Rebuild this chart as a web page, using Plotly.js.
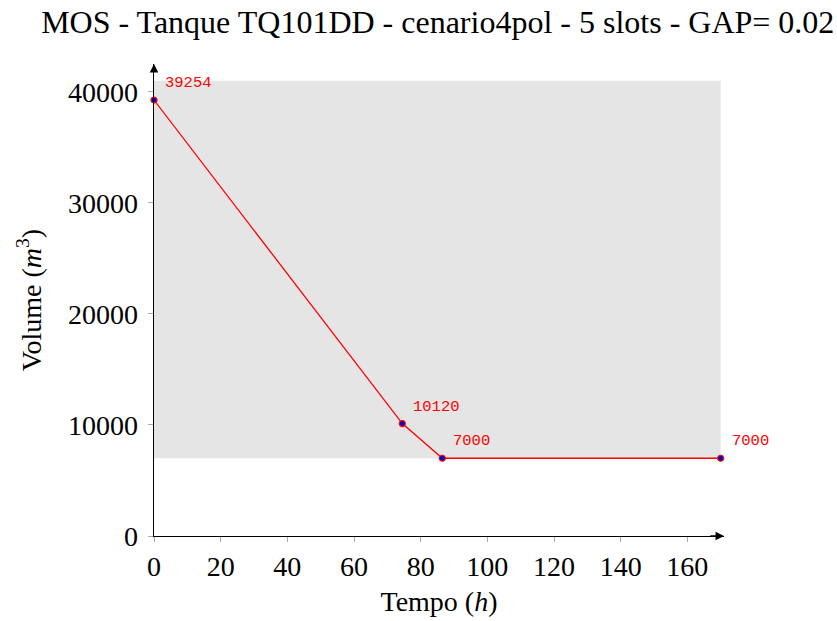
<!DOCTYPE html>
<html>
<head>
<meta charset="utf-8">
<script src="https://cdn.plot.ly/plotly-3.0.1.min.js"></script>
<style>html,body{margin:0;padding:0;background:#fff;}#chart{width:837px;height:621px;}</style>
</head>
<body>
<div id="chart"></div>
<script>
// Data
var tempo = [0, 74.5, 86.5, 170];
var volume = [39254, 10120, 7000, 7000];
var pointLabels = ['39254', '10120', '7000', '7000'];
var capMin = 7000;
var capMax = 41000;
var xTicks = [0, 20, 40, 60, 80, 100, 120, 140, 160];
var yTicks = [0, 10000, 20000, 30000, 40000];
var xMax = 171;
var yMax = 42500;

var serif = 'Liberation Serif, Times New Roman, serif';

var trace = {
  x: tempo, y: volume, mode: 'lines+markers', type: 'scatter',
  line: {color: '#ff0000', width: 1.3},
  marker: {color: '#0000cc', size: 6, line: {color: '#ff0000', width: 1.2}},
  cliponaxis: false, hoverinfo: 'skip', showlegend: false
};

var annotations = pointLabels.map(function (t, i) {
  return {x: tempo[i], y: volume[i], xref: 'x', yref: 'y', text: t, showarrow: false,
    xanchor: 'left', yanchor: 'bottom', xshift: 9, yshift: 6,
    font: {family: 'Liberation Mono, monospace', size: 15.5, color: '#ff0000'}};
});
// axis arrows
annotations.push({x: xMax, y: 0, ax: xMax - 5, ay: 0, xref: 'x', yref: 'y', axref: 'x', ayref: 'y',
  text: ' ', showarrow: true, arrowhead: 2, arrowsize: 1.3, arrowwidth: 1.3, arrowcolor: '#000'});
annotations.push({x: 0, y: yMax, ax: 0, ay: yMax - 1500, xref: 'x', yref: 'y', axref: 'x', ayref: 'y',
  text: ' ', showarrow: true, arrowhead: 2, arrowsize: 1.3, arrowwidth: 1.3, arrowcolor: '#000'});

var layout = {
  width: 837, height: 621,
  margin: {l: 154, r: 113, t: 64, b: 85},
  paper_bgcolor: '#fff', plot_bgcolor: '#fff',
  title: {text: 'MOS - Tanque TQ101DD - cenario4pol - 5 slots - GAP= 0.02',
    font: {family: serif, size: 32, color: '#000'}, x: 0.523, xanchor: 'center', y: 0.965, yanchor: 'middle'},
  xaxis: {range: [0, xMax], tickvals: xTicks, ticktext: xTicks.map(String),
    showgrid: false, zeroline: false, showline: true, linecolor: '#000', linewidth: 1.3,
    ticks: 'outside', ticklen: 5, tickcolor: '#aaa', tickwidth: 1,
    tickfont: {family: serif, size: 28, color: '#000'},
    title: {text: 'Tempo (<i>h</i>)', font: {family: serif, size: 28, color: '#000'}, standoff: 10}},
  yaxis: {range: [0, yMax], tickvals: yTicks, ticktext: yTicks.map(String),
    showgrid: false, zeroline: false, showline: true, linecolor: '#000', linewidth: 1.3,
    ticks: 'outside', ticklen: 5, tickcolor: '#aaa', tickwidth: 1, ticklabelstandoff: 4,
    tickfont: {family: serif, size: 28, color: '#000'},
    title: {text: 'Volume (<i>m</i><sup>3</sup>)', font: {family: serif, size: 28, color: '#000'}, standoff: 18}},
  shapes: [{type: 'rect', xref: 'x', yref: 'y', x0: 0, x1: tempo[tempo.length - 1], y0: capMin, y1: capMax,
    fillcolor: '#e5e5e5', line: {width: 0}, layer: 'below'}],
  annotations: annotations
};

Plotly.newPlot('chart', [trace], layout, {displayModeBar: false, staticPlot: true});
</script>
</body>
</html>
